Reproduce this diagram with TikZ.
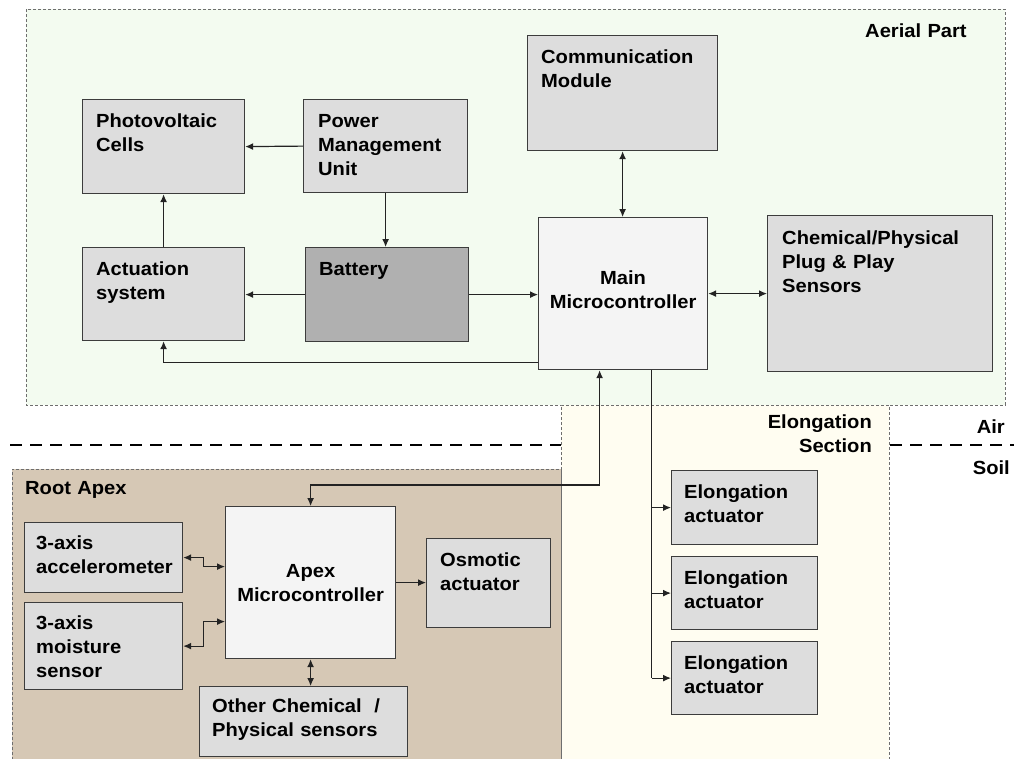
\documentclass[tikz,border=0pt]{standalone}
\usepackage{fontspec}
\setmainfont[FakeStretch=1.06]{Liberation Sans}
\usetikzlibrary{arrows.meta,calc}
\definecolor{aerialfill}{RGB}{243,251,240}
\definecolor{elongfill}{RGB}{255,253,241}
\definecolor{rootfill}{RGB}{214,200,181}
\definecolor{boxfill}{RGB}{221,221,221}
\definecolor{batfill}{RGB}{176,176,176}
\definecolor{mcufill}{RGB}{244,244,244}
\definecolor{edgecol}{RGB}{60,60,60}
\definecolor{zonecol}{RGB}{110,110,110}
\definecolor{wirecol}{RGB}{35,35,35}
\begin{document}
\begin{tikzpicture}[x=1pt,y=-1pt,
  zone/.style={draw=zonecol, line width=0.8pt, dash pattern=on 3pt off 2pt},
  gbox/.style={draw=edgecol, line width=1.2pt, fill=boxfill, rectangle, anchor=north west, inner sep=0pt},
  lbl/.style={font=\bfseries\fontsize{19}{24}\selectfont, inner sep=0pt, text width=#1, align=left, anchor=base west},
  lbl/.default=200pt,
  wire/.style={draw=wirecol, line width=1.2pt},
  arr/.style={wire, -{Latex[length=8pt,width=7pt]}},
  darr/.style={wire, {Latex[length=8pt,width=7pt]}-{Latex[length=8pt,width=7pt]}},
]
\useasboundingbox (0,0) rectangle (1014,758);

% zones
\fill[aerialfill] (26,9) rectangle (1005,405);
\draw[zone] (26,9) rectangle (1005,405);
\draw[black, line width=2pt, dash pattern=on 12pt off 8pt] (10,445) -- (1014,445);
\fill[elongfill] (561,405) rectangle (889,770);
\draw[zone] (561,770) -- (561,405) -- (889,405) -- (889,770);
\fill[rootfill] (12,469) rectangle (561,770);
\draw[zone] (12,770) -- (12,469) -- (561,469) -- (561,770);

% zone labels
\node[lbl] (tAerial) at (865,37) {Aerial Part};
\node[lbl=150pt, align=right, anchor=base east] (tElong) at (872,428) {Elongation\\Section};
\node[lbl=60pt, align=right, anchor=base east] (tAir) at (1005,433) {Air};
\node[lbl=60pt, align=right, anchor=base east] (tSoil) at (1010,474) {Soil};
\node[lbl] (tRoot) at (25,494) {Root Apex};

% boxes
\node[gbox, minimum width=162pt, minimum height=94pt] (pv) at (82,99) {};
\node[gbox, minimum width=164pt, minimum height=93pt] (pmu) at (303,99) {};
\node[gbox, minimum width=162pt, minimum height=93pt] (act) at (82,247) {};
\node[gbox, minimum width=163pt, minimum height=94pt, fill=batfill] (bat) at (305,247) {};
\node[gbox, minimum width=190pt, minimum height=115pt] (comm) at (527,35) {};
\node[gbox, minimum width=169pt, minimum height=152pt, fill=mcufill] (main) at (538,217) {};
\node[gbox, minimum width=225pt, minimum height=156pt] (chem) at (767,215) {};
\node[gbox, minimum width=158pt, minimum height=70pt] (acc) at (24,522) {};
\node[gbox, minimum width=158pt, minimum height=87pt] (moi) at (24,602) {};
\node[gbox, minimum width=170pt, minimum height=152pt, fill=mcufill] (apex) at (225,506) {};
\node[gbox, minimum width=124pt, minimum height=89pt] (osm) at (426,538) {};
\node[gbox, minimum width=208pt, minimum height=70pt] (oth) at (199,686) {};
\node[gbox, minimum width=146pt, minimum height=74pt] (e1) at (671,470) {};
\node[gbox, minimum width=146pt, minimum height=73pt] (e2) at (671,556) {};
\node[gbox, minimum width=146pt, minimum height=73pt] (e3) at (671,641) {};

% box labels
\node[lbl] (pvT) at ([xshift=14pt,yshift=-28pt]pv.north west) {Photovoltaic\\Cells};
\node[lbl] (pmuT) at ([xshift=15pt,yshift=-28pt]pmu.north west) {Power\\Management\\Unit};
\node[lbl] (actT) at ([xshift=14pt,yshift=-28pt]act.north west) {Actuation\\system};
\node[lbl] (batT) at ([xshift=14pt,yshift=-28pt]bat.north west) {Battery};
\node[lbl] (commT) at ([xshift=14pt,yshift=-28pt]comm.north west) {Communication\\Module};
\node[lbl=169pt, align=center, anchor=base] (mainT) at ([yshift=-67pt]main.north) {Main\\Microcontroller};
\node[lbl] (chemT) at ([xshift=15pt,yshift=-29pt]chem.north west) {Chemical/Physical\\Plug \& Play\\Sensors};
\node[lbl] (accT) at ([xshift=12pt,yshift=-27pt]acc.north west) {3-axis\\accelerometer};
\node[lbl] (moiT) at ([xshift=12pt,yshift=-27pt]moi.north west) {3-axis\\moisture\\sensor};
\node[lbl=170pt, align=center, anchor=base] (apexT) at ([yshift=-71pt]apex.north) {Apex\\Microcontroller};
\node[lbl] (osmT) at ([xshift=14pt,yshift=-28pt]osm.north west) {Osmotic\\actuator};
\node[lbl] (othT) at ([xshift=13pt,yshift=-26pt]oth.north west) {Other Chemical\ \ /\\Physical sensors};
\node[lbl] (e1T) at ([xshift=13pt,yshift=-28pt]e1.north west) {Elongation\\actuator};
\node[lbl] (e2T) at ([xshift=13pt,yshift=-28pt]e2.north west) {Elongation\\actuator};
\node[lbl] (e3T) at ([xshift=13pt,yshift=-28pt]e3.north west) {Elongation\\actuator};

% connectors
\draw[arr] (pmu.west) -- (pv.east);
\draw[arr] (pmu.south) -- (pmu.south |- bat.north);
\draw[arr] (act.north) -- (pv.south);
\draw[arr] (bat.west) -- (bat.west -| act.east);
\draw[arr] (bat.east) -- (bat.east -| main.west);
\draw[arr] ([yshift=8pt]main.south west) -| (act.south);
\draw[darr] (comm.south) -- (comm.south |- main.north);
\draw[darr] (main.east) -- (main.east -| chem.west);

\coordinate (mainIn) at ([xshift=-23.5pt]main.south);
\coordinate (mainOut) at ([xshift=28.5pt]main.south);
\coordinate (apexJ) at (mainIn |- 0,485);
\draw[darr] (apex.north) |- (apexJ) -- (mainIn);

\draw[wire] (mainOut) -- (mainOut |- e3.west);
\draw[arr] (mainOut |- e1.west) -- (e1.west);
\draw[arr] (mainOut |- e2.west) -- (e2.west);
\draw[arr] (mainOut |- e3.west) -- (e3.west);

\draw[darr] (acc.east) -- ++(20,0) |- ([yshift=16pt]apex.west);
\draw[darr] (moi.east) -- ++(20,0) |- ([yshift=-39pt]apex.west);
\draw[arr] (apex.east) -- (apex.east -| osm.west);
\draw[darr] (apex.south) -- (apex.south |- oth.north);
\end{tikzpicture}
\end{document}
